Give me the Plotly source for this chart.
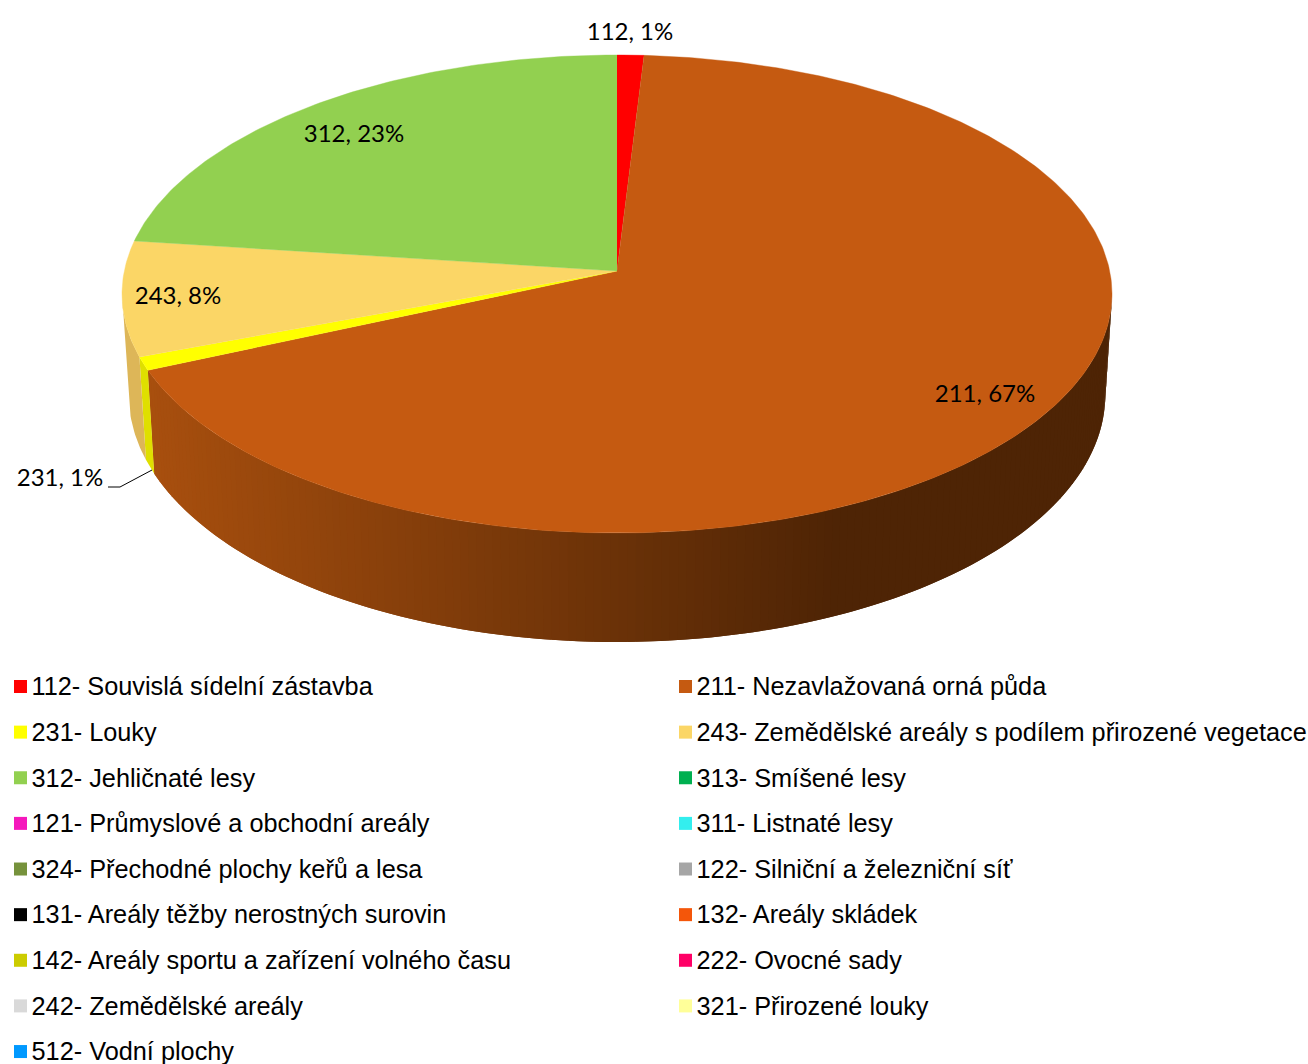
import math
import plotly.graph_objects as go

# ---------- data ----------
pie_codes = ["112", "211", "231", "243", "312"]
pie_values = [0.96, 67.44, 0.9, 7.75, 22.95]
pie_percent_labels = [1, 67, 1, 8, 23]
pie_colors = ["#FF0000", "#C55A11", "#FFFF00", "#FBD666", "#92D050"]
wall_colors = [None, None, "#DFDF00", "#DDB658", None]

legend_codes = ["112", "211", "231", "243", "312", "313", "121", "311", "324",
                "122", "131", "132", "142", "222", "242", "321", "512"]
legend_names = ["Souvislá sídelní zástavba", "Nezavlažovaná orná půda", "Louky",
                "Zemědělské areály s podílem přirozené vegetace", "Jehličnaté lesy",
                "Smíšené lesy", "Průmyslové a obchodní areály", "Listnaté lesy",
                "Přechodné plochy keřů a lesa", "Silniční a železniční síť",
                "Areály těžby nerostných surovin", "Areály skládek",
                "Areály sportu a zařízení volného času", "Ovocné sady",
                "Zemědělské areály", "Přirozené louky", "Vodní plochy"]
legend_colors = ["#FF0000", "#C55A11", "#FFFF00", "#FBD666", "#92D050", "#00B050",
                 "#F518BC", "#33EEEE", "#76923C", "#A6A6A6", "#000000", "#F4560A",
                 "#CCCC00", "#FF0066", "#D9D9D9", "#FFFF99", "#0099FF"]

# ---------- layout constants (axis units equal page pixels) ----------
W, H = 1308, 1064
CX, K = 617, 0.0963
TOP = dict(cy=271, rx=492.7, ry=236.8)
BOTTOM = dict(cy=371, rx=486.0, ry=244.9)
LABEL_FONT = "Lato, Carlito, sans-serif"
LEGEND_FONT = "Liberation Sans, Arial, sans-serif"
LABEL_XY = {"112": (630, 34), "211": (985, 396), "231": (60, 480),
            "243": (178, 298), "312": (354, 136)}
LEADER = ([108, 120, 152], [487, 487, 470])
LEG_X = (20.5, 685.5)
LEG_TX = (31.5, 696.5)
LEG_Y0, LEG_DY = 686.5, 45.63
# the side wall is only seen between the two widest points of the rim
WALL_T0, WALL_T1 = 0.265, 0.735
SHADE_A, SHADE_B = (168, 79, 14), (78, 36, 5)
SHADE_X0, SHADE_X1 = 150, 840


def project(t, ring):
    a = 2 * math.pi * t
    u, v = math.sin(a), math.cos(a)
    d = 1 + K * v
    return CX + ring["rx"] * u / d, ring["cy"] - ring["ry"] * v / d


def frange(t0, t1, step=0.002):
    n = max(2, int(math.ceil((t1 - t0) / step)) + 1)
    return [t0 + (t1 - t0) * i / (n - 1) for i in range(n)]


def poly(xs, ys, color, lw=0.0):
    line = dict(color=color, width=lw) if lw else dict(width=0)
    return go.Scatter(x=xs, y=ys, mode="lines", fill="toself", fillcolor=color,
                      line=line, hoverinfo="skip", showlegend=False)


def shade(x):
    f = min(1, max(0, (x - SHADE_X0) / (SHADE_X1 - SHADE_X0)))
    c = [round(a + (b - a) * f) for a, b in zip(SHADE_A, SHADE_B)]
    return "rgb(%d,%d,%d)" % tuple(c)


fig = go.Figure()
total = sum(pie_values)
edges = [0]
for val in pie_values:
    edges.append(edges[-1] + val / total)

# side walls first, the top faces then cover whatever is behind them
for i, code in enumerate(pie_codes):
    t0, t1 = max(edges[i], WALL_T0), min(edges[i + 1], WALL_T1)
    if t1 <= t0:
        continue
    if code == "211":
        ts = frange(t0, t1, 0.0025)
        # every strip runs on under the next one, so no seam can show
        for j in range(len(ts) - 1):
            a, b = ts[j], ts[min(j + 2, len(ts) - 1)]
            mid = project(ts[j], TOP)[0]
            arc = frange(a, b, 0.001)
            pts = [project(t, TOP) for t in arc] + [project(t, BOTTOM) for t in reversed(arc)]
            fig.add_trace(poly([p[0] for p in pts], [p[1] for p in pts], shade(mid)))
    else:
        ts = frange(t0, t1)
        pts = [project(t, TOP) for t in ts] + [project(t, BOTTOM) for t in reversed(ts)]
        fig.add_trace(poly([p[0] for p in pts], [p[1] for p in pts], wall_colors[i]))

# top faces
for i, col in enumerate(pie_colors):
    ts = frange(edges[i], edges[i + 1])
    pts = [(CX, TOP["cy"])] + [project(t, TOP) for t in ts]
    fig.add_trace(poly([p[0] for p in pts], [p[1] for p in pts], col, 0.4))

# leader line
fig.add_trace(go.Scatter(x=LEADER[0], y=LEADER[1], mode="lines",
                         line=dict(color="#000000", width=1), hoverinfo="skip", showlegend=False))

# data labels
fig.add_trace(go.Scatter(
    x=[LABEL_XY[c][0] for c in pie_codes], y=[LABEL_XY[c][1] for c in pie_codes],
    mode="text", text=[f"{c}, {p}%" for c, p in zip(pie_codes, pie_percent_labels)],
    textposition="middle center", textfont=dict(family=LABEL_FONT, size=24, color="#000000"),
    hoverinfo="skip", showlegend=False))

# legend, two columns, filled row by row
cols = [i % 2 for i in range(len(legend_codes))]
rows = [i // 2 for i in range(len(legend_codes))]
fig.add_trace(go.Scatter(
    x=[LEG_X[c] for c in cols], y=[LEG_Y0 + LEG_DY * r for r in rows], mode="markers",
    marker=dict(symbol="square", size=13, color=legend_colors, line=dict(width=0)),
    hoverinfo="skip", showlegend=False))
fig.add_trace(go.Scatter(
    x=[LEG_TX[c] for c in cols], y=[LEG_Y0 + LEG_DY * r + 2.5 for r in rows], mode="text",
    text=[f"{c}- {n}" for c, n in zip(legend_codes, legend_names)],
    textposition="middle right", textfont=dict(family=LEGEND_FONT, size=25.3, color="#000000"),
    hoverinfo="skip", showlegend=False))

fig.update_layout(
    width=W, height=H, margin=dict(l=0, r=0, t=0, b=0), paper_bgcolor="#FFFFFF",
    plot_bgcolor="#FFFFFF", showlegend=False,
    xaxis=dict(range=[0, W], visible=False, fixedrange=True),
    yaxis=dict(range=[H, 0], visible=False, fixedrange=True),
)
fig.write_html("out.html", config={"displayModeBar": False},
               post_script="document.body.style.margin='0';document.body.style.overflow='hidden';")
